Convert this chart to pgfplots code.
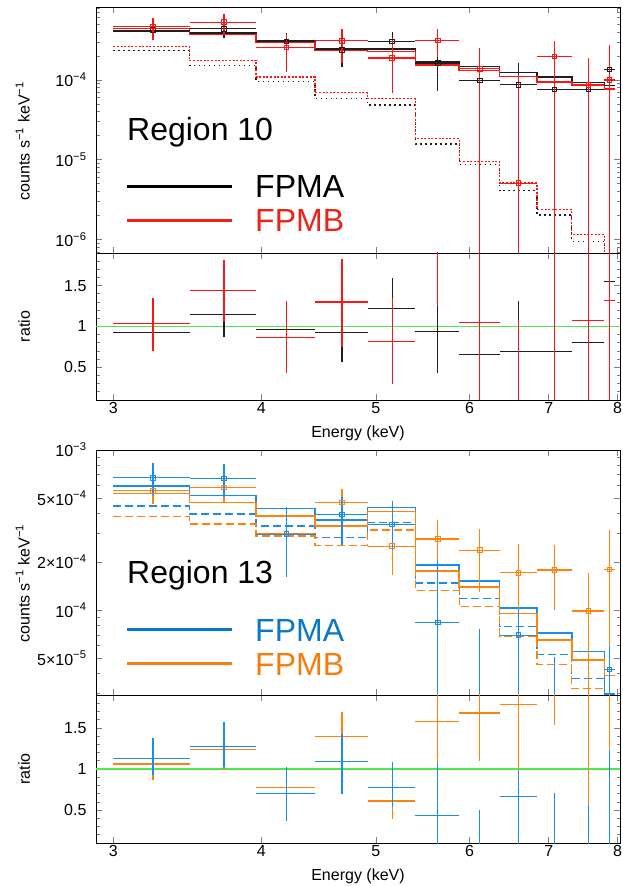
\documentclass[border=0pt]{standalone}
\usepackage{fontspec}
\setmainfont{Liberation Sans}
\usepackage{pgfplots}
\usepackage{pgfplotstable}
\pgfplotsset{compat=1.18}

\definecolor{cK}{RGB}{30,30,30}
\definecolor{cR}{RGB}{255,20,20}
\definecolor{cB}{RGB}{25,140,240}
\definecolor{cO}{RGB}{255,130,10}
\definecolor{cG}{RGB}{80,230,80}
\definecolor{cBt}{RGB}{10,120,200}
\definecolor{cOt}{RGB}{245,125,15}
\definecolor{cRt}{RGB}{235,35,25}

\pgfplotstableread{
x ex y ep em
3.24 0.24 4.2e-4 1.1e-4 0.9e-4
3.72 0.24 4.37e-4 1.13e-4 0.97e-4
4.20 0.24 3.04e-4 0.85e-4 0.94e-4
4.68 0.24 2.39e-4 1.11e-4 0.95e-4
5.16 0.24 3.04e-4 0.9e-4 1.0e-4
5.64 0.24 1.63e-4 0.47e-4 0.9e-4
6.12 0.24 9.9e-5 7.9e-5 8.1e-5
6.60 0.24 8.7e-5 7.6e-5 8.699e-5
7.08 0.24 7.6e-5 2.14e-4 7.599e-5
7.56 0.24 7.6e-5 7.4e-5 7.599e-5
7.88 0.08 1.35e-4 1.4e-4 1.3499e-4
}\RtenK
\pgfplotstableread{
x ex y ep em
3.24 0.24 4.68e-4 1.28e-4 1.49e-4
3.72 0.24 5.3e-4 1.38e-4 1.62e-4
4.20 0.24 2.56e-4 1.24e-4 1.32e-4
4.68 0.24 3.1e-4 1.24e-4 1.47e-4
5.16 0.24 1.88e-4 1.47e-4 1.2e-4
5.64 0.24 3.13e-4 1.21e-4 1.2e-4
6.12 0.24 1.38e-4 1.12e-4 1.3799e-4
6.60 0.24 5.1e-6 1.149e-4 5.09e-6
7.08 0.24 1.97e-4 1.07e-4 1.9699e-4
7.56 0.24 8.7e-5 1.03e-4 8.699e-5
7.88 0.08 1.0e-4 1.77e-4 0.9999e-4
}\RtenR
\pgfplotstableread{
x ex y ep em
3.24 0.24 0.926 0.214 0.176
3.72 0.24 1.147 0.263 0.27
4.20 0.24 0.967 0.283 0.287
4.68 0.24 0.926 0.374 0.366
5.16 0.24 1.217 0.376 0.401
5.64 0.24 0.939 0.315 0.504
6.12 0.24 0.66 0.54 0.66
6.60 0.24 0.693 0.622 0.693
7.08 0.24 0.693 1.807 0.693
7.56 0.24 0.804 0.796 0.804
7.88 0.08 1.552 0.948 1.552
}\RtenKr
\pgfplotstableread{
x ex y ep em
3.24 0.24 1.041 0.307 0.341
3.72 0.24 1.442 0.376 0.382
4.20 0.24 0.865 0.442 0.438
4.68 0.24 1.299 0.531 0.544
5.16 0.24 0.816 0.532 0.524
5.64 0.24 2.02 0.78 0.766
6.12 0.24 1.049 1.451 1.049
6.60 0.24 0.046 1.034 0.046
7.08 0.24 2.1 1.1 2.1
7.56 0.24 1.074 1.226 1.074
7.88 0.08 1.319 1.481 1.319
}\RtenRr
\pgfplotstableread{
x k r kd rd
3.00 4.1e-4 4.4e-4 2.32e-4 2.63e-4
3.48 3.87e-4 3.7e-4 1.52e-4 1.76e-4
3.96 3.07e-4 2.95e-4 9.6e-5 1.09e-4
4.44 2.46e-4 2.39e-4 5.9e-5 6.9e-5
4.92 2.46e-4 2.28e-4 4.87e-5 5.8e-5
5.40 1.68e-4 1.55e-4 1.58e-5 1.83e-5
5.88 1.48e-4 1.32e-4 8.7e-6 9.6e-6
6.36 1.24e-4 1.11e-4 4.1e-6 5.1e-6
6.84 1.08e-4 9.4e-5 2.04e-6 2.4e-6
7.32 9.3e-5 8.5e-5 9.5e-7 1.15e-6
7.80 8.5e-5 7.7e-5 4e-7 4e-7
7.96 8.5e-5 7.7e-5 4e-7 4e-7
}\RtenM

\pgfplotstableread{
x ex y ep em
3.24 0.24 6.71e-4 1.55e-4 1.46e-4
3.72 0.24 6.65e-4 1.52e-4 1.55e-4
4.20 0.24 2.98e-4 1.42e-4 1.38e-4
4.68 0.24 3.96e-4 1.14e-4 1.4e-4
5.16 0.24 3.43e-4 1.34e-4 1.06e-4
5.64 0.24 8.37e-5 1.223e-4 8.369e-5
6.12 0.24 5e-6 7.07e-5 4.99e-6
6.60 0.24 6.98e-5 3.2e-5 6.97e-5
7.08 0.24 5e-6 4.6e-5 4.99e-6
7.56 0.24 3e-6 2.6e-5 2.99e-6
7.88 0.08 4.27e-5 1.73e-5 4.269e-5
}\RthB
\pgfplotstableread{
x ex y ep em
3.24 0.24 5.57e-4 1.41e-4 1.0e-4
3.72 0.24 5.85e-4 1.45e-4 1.21e-4
4.20 0.24 3.02e-4 1.4e-4 1.4e-4
4.68 0.24 4.71e-4 0.97e-4 1.31e-4
5.16 0.24 2.51e-4 0.79e-4 0.85e-4
5.64 0.24 2.78e-4 0.87e-4 1.08e-4
6.12 0.24 2.37e-4 0.82e-4 1.07e-4
6.60 0.24 1.71e-4 0.89e-4 0.77e-4
7.08 0.24 1.78e-4 0.77e-4 0.78e-4
7.56 0.24 9.86e-5 0.71e-4 7.2e-5
7.88 0.08 1.79e-4 1.36e-4 1.31e-4
}\RthO
\pgfplotstableread{
x ex y ep em
3.24 0.24 1.131 0.245 0.2
3.72 0.24 1.273 0.298 0.25
4.20 0.24 0.698 0.322 0.331
4.68 0.24 1.09 0.33 0.388
5.16 0.24 0.776 0.314 0.236
5.64 0.24 0.433 0.645 0.433
6.12 0.24 0.03 0.468 0.029
6.60 0.24 0.669 0.319 0.669
7.08 0.24 0.03 0.68 0.029
7.56 0.24 0.03 0.53 0.029
7.88 0.08 0.03 1.2 0.029
}\RthBr
\pgfplotstableread{
x ex y ep em
3.24 0.24 1.061 0.192 0.196
3.72 0.24 1.241 0.228 0.253
4.20 0.24 0.771 0.249 0.24
4.68 0.24 1.396 0.294 0.406
5.16 0.24 0.612 0.212 0.216
5.64 0.24 1.576 0.6 0.498
6.12 0.24 1.682 0.6 0.582
6.60 0.24 1.788 0.5 0.8
7.08 0.24 2.74 0.5 1.2
7.56 0.24 2.07 0.5 1.51
7.88 0.08 4.6 0.5 3.37
}\RthOr
\pgfplotstableread{
x b o bd od
3.00 5.96e-4 5.36e-4 4.47e-4 3.83e-4
3.48 5.19e-4 4.71e-4 3.98e-4 3.45e-4
3.96 4.31e-4 3.87e-4 3.35e-4 2.9e-4
4.44 3.65e-4 3.35e-4 2.85e-4 2.54e-4
4.92 4.38e-4 4.12e-4 3.52e-4 3.16e-4
5.40 1.91e-4 1.75e-4 1.48e-4 1.32e-4
5.88 1.52e-4 1.4e-4 1.18e-4 1.05e-4
6.36 1.03e-4 9.5e-5 7.94e-5 6.88e-5
6.84 7.2e-5 6.49e-5 5.28e-5 4.57e-5
7.32 5.5e-5 4.9e-5 3.74e-5 3.24e-5
7.80 3.0e-5 3.9e-5 2.5e-5 2.5e-5
7.96 3.0e-5 3.9e-5 2.5e-5 2.5e-5
}\RthM

\newcommand{\fs}{\fontsize{16bp}{19bp}\selectfont}
\newcommand{\fb}{\fontsize{32bp}{38bp}\selectfont}

\pgfplotsset{every axis/.append style={
    scale only axis, width=524bp,
    xmin=2.9, xmax=8.04,
    xtick pos=both, ytick pos=both, tick align=inside,
    major tick length=6bp, minor tick length=3.5bp,
    axis line style={line width=0.9bp},
    tick style={line width=0.7bp},
    tick label style={font=\fs},
    label style={font=\fs},
    yticklabel style={xshift=-6bp},
    xticklabel style={inner sep=2bp},
}}

\begin{document}
\begin{tikzpicture}
\useasboundingbox (0,0) rectangle (623bp,886bp);

% ===== Region 10 spectrum =====
\begin{axis}[xmode=log, ymode=log, at={(96bp,633bp)}, anchor=south west, height=246bp,
  xtick={3,4,5,6,7,8}, xticklabels={}, minor xtick={},
  ymin=6.8e-7, ymax=8.2e-4,
  ytick={1e-6,1e-5,1e-4},
  yticklabels={10\textsuperscript{−6},10\textsuperscript{−5},10\textsuperscript{−4}},
  minor ytick={7e-7,8e-7,9e-7,2e-6,3e-6,4e-6,5e-6,6e-6,7e-6,8e-6,9e-6,2e-5,3e-5,4e-5,5e-5,6e-5,7e-5,8e-5,9e-5,2e-4,3e-4,4e-4,5e-4,6e-4,7e-4,8e-4},
  ylabel={counts s\textsuperscript{−1} keV\textsuperscript{−1}},
  ylabel style={at={(axis description cs:-0.14,0.455)}, anchor=center}]
\addplot[const plot, no marks, cK, line width=1.3bp, dash pattern=on 1.5bp off 3.5bp] table[x=x, y=kd] {\RtenM};
\addplot[const plot, no marks, cR, line width=1.3bp, dash pattern=on 2bp off 1.6bp] table[x=x, y=rd] {\RtenM};
\addplot[const plot, no marks, cK, line width=1.6bp] table[x=x, y=k] {\RtenM};
\addplot[const plot, no marks, cR, line width=1.6bp] table[x=x, y=r] {\RtenM};
\addplot[cK, only marks, mark=square, mark size=2.3bp, mark options={line width=0.9bp},
  error bars/.cd, x dir=both, x explicit, y dir=both, y explicit, error mark=none, error bar style={line width=1.2bp}]
  table[x=x, y=y, x error=ex, y error plus=ep, y error minus=em] {\RtenK};
\addplot[cR, only marks, mark=square, mark size=2.3bp, mark options={line width=0.9bp},
  error bars/.cd, x dir=both, x explicit, y dir=both, y explicit, error mark=none, error bar style={line width=1.2bp}]
  table[x=x, y=y, x error=ex, y error plus=ep, y error minus=em] {\RtenR};
\end{axis}

% ===== Region 10 ratio =====
\begin{axis}[xmode=log, at={(96bp,486bp)}, anchor=south west, height=147bp,
  xtick={3,4,5,6,7,8}, xticklabels={3,4,5,6,7,8}, minor xtick={},
  ymin=0.1, ymax=1.9, ytick={0.5,1,1.5}, yticklabels={0.5,1,1.5},
  minor ytick={0.2,0.3,0.4,0.6,0.7,0.8,0.9,1.1,1.2,1.3,1.4,1.6,1.7,1.8},
  xlabel={Energy (keV)}, ylabel={ratio},
  xlabel style={at={(axis description cs:0.5,0)}, anchor=center, yshift=-33bp},
  ylabel style={at={(axis description cs:-0.137,0.5)}, anchor=center}]
\addplot[cG, line width=1.3bp, no marks] coordinates {(2.9,1) (8.04,1)};
\addplot[cK, only marks, mark=text, text mark={},
  error bars/.cd, x dir=both, x explicit, y dir=both, y explicit, error mark=none, error bar style={line width=1.2bp}]
  table[x=x, y=y, x error=ex, y error plus=ep, y error minus=em] {\RtenKr};
\addplot[cR, only marks, mark=text, text mark={},
  error bars/.cd, x dir=both, x explicit, y dir=both, y explicit, error mark=none, error bar style={line width=1.2bp}]
  table[x=x, y=y, x error=ex, y error plus=ep, y error minus=em] {\RtenRr};
\end{axis}

% ===== Region 13 spectrum =====
\begin{axis}[xmode=log, ymode=log, at={(96bp,191bp)}, anchor=south west, height=245bp,
  xtick={3,4,5,6,7,8}, xticklabels={}, minor xtick={},
  ymin=2.95e-5, ymax=1e-3,
  ytick={5e-5,1e-4,2e-4,5e-4,1e-3},
  yticklabels={5×10\textsuperscript{−5},10\textsuperscript{−4},2×10\textsuperscript{−4},5×10\textsuperscript{−4},10\textsuperscript{−3}},
  minor ytick={3e-5,4e-5,6e-5,7e-5,8e-5,9e-5,3e-4,4e-4,6e-4,7e-4,8e-4,9e-4},
  ylabel={counts s\textsuperscript{−1} keV\textsuperscript{−1}},
  ylabel style={at={(axis description cs:-0.14,0.455)}, anchor=center}]
\addplot[const plot, no marks, cB, line width=1.3bp, dash pattern=on 8bp off 4bp] table[x=x, y=bd] {\RthM};
\addplot[const plot, no marks, cO, line width=1.3bp, dash pattern=on 8bp off 4bp] table[x=x, y=od] {\RthM};
\addplot[const plot, no marks, cB, line width=1.6bp] table[x=x, y=b] {\RthM};
\addplot[const plot, no marks, cO, line width=1.6bp] table[x=x, y=o] {\RthM};
\addplot[cO, only marks, mark=square, mark size=2.3bp, mark options={line width=0.9bp},
  error bars/.cd, x dir=both, x explicit, y dir=both, y explicit, error mark=none, error bar style={line width=1.2bp}]
  table[x=x, y=y, x error=ex, y error plus=ep, y error minus=em] {\RthO};
\addplot[cB, only marks, mark=square, mark size=2.3bp, mark options={line width=0.9bp},
  error bars/.cd, x dir=both, x explicit, y dir=both, y explicit, error mark=none, error bar style={line width=1.2bp}]
  table[x=x, y=y, x error=ex, y error plus=ep, y error minus=em] {\RthB};
\end{axis}

% ===== Region 13 ratio =====
\begin{axis}[xmode=log, at={(96bp,43bp)}, anchor=south west, height=148bp,
  xtick={3,4,5,6,7,8}, xticklabels={3,4,5,6,7,8}, minor xtick={},
  ymin=0.1, ymax=1.9, ytick={0.5,1,1.5}, yticklabels={0.5,1,1.5},
  minor ytick={0.2,0.3,0.4,0.6,0.7,0.8,0.9,1.1,1.2,1.3,1.4,1.6,1.7,1.8},
  xlabel={Energy (keV)}, ylabel={ratio},
  xlabel style={at={(axis description cs:0.5,0)}, anchor=center, yshift=-33bp},
  ylabel style={at={(axis description cs:-0.137,0.5)}, anchor=center}]
\addplot[cG, line width=1.3bp, no marks] coordinates {(2.9,1) (8.04,1)};
\addplot[cO, only marks, mark=text, text mark={},
  error bars/.cd, x dir=both, x explicit, y dir=both, y explicit, error mark=none, error bar style={line width=1.2bp}]
  table[x=x, y=y, x error=ex, y error plus=ep, y error minus=em] {\RthOr};
\addplot[cB, only marks, mark=text, text mark={},
  error bars/.cd, x dir=both, x explicit, y dir=both, y explicit, error mark=none, error bar style={line width=1.2bp}]
  table[x=x, y=y, x error=ex, y error plus=ep, y error minus=em] {\RthBr};
\end{axis}

\node[anchor=base west, inner sep=0pt, font=\fb] at (127bp,745bp) {Region 10};
\draw[black, line width=3bp] (127bp,699.3bp) -- (232bp,699.3bp);
\draw[cRt, line width=3bp] (127bp,665.3bp) -- (232bp,665.3bp);
\node[anchor=base west, inner sep=0pt, font=\fb] at (255bp,688bp) {FPMA};
\node[anchor=base west, inner sep=0pt, font=\fb, text=cRt] at (255bp,654bp) {FPMB};

\node[anchor=base west, inner sep=0pt, font=\fb] at (127bp,302bp) {Region 13};
\draw[cBt, line width=3bp] (127bp,256bp) -- (232bp,256bp);
\draw[cOt, line width=3bp] (127bp,222bp) -- (232bp,222bp);
\node[anchor=base west, inner sep=0pt, font=\fb, text=cBt] at (255bp,244.5bp) {FPMA};
\node[anchor=base west, inner sep=0pt, font=\fb, text=cOt] at (255bp,210.5bp) {FPMB};
\end{tikzpicture}
\end{document}
